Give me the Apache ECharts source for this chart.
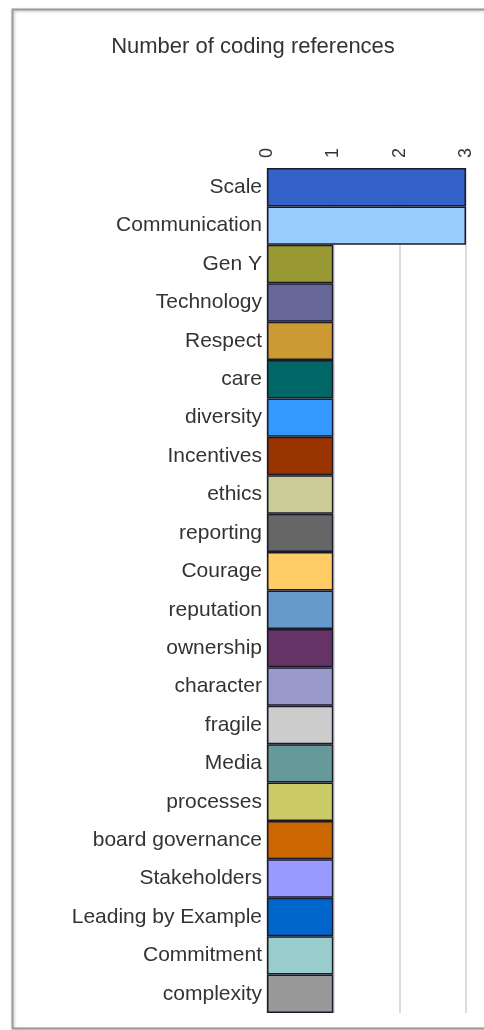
<!DOCTYPE html>
<html>
<head>
<meta charset="utf-8">
<script src="https://cdn.jsdelivr.net/npm/echarts@6/dist/echarts.min.js"></script>
<style>
html,body{margin:0;padding:0;background:#fff;}
#chart{width:484px;height:1030px;}
</style>
</head>
<body>
<div id="chart"></div>
<script>
const categories = ["Scale","Communication","Gen Y","Technology","Respect","care","diversity","Incentives","ethics","reporting","Courage","reputation","ownership","character","fragile","Media","processes","board governance","Stakeholders","Leading by Example","Commitment","complexity"];
const values = [3,3,1,1,1,1,1,1,1,1,1,1,1,1,1,1,1,1,1,1,1,1];
const colors = ["#3262C8","#99CCFF","#999933","#666699","#CC9933","#006666","#3399FF","#993300","#CCCC99","#666666","#FFCC66","#6699CC","#663366","#9999CC","#CCCCCC","#669999","#CCCC66","#CC6600","#9999FF","#0066CC","#99CCCC","#999999"];
const tickValues = [0,1,2,3];
const titleText = "Number of coding references";

const chart = echarts.init(document.getElementById('chart'), null, {renderer:'canvas'});
chart.setOption({
  backgroundColor:'#fff',
  animation:false,
  title:{
    text:titleText,
    left:248, top:31, textAlign:'center',
    textStyle:{fontFamily:'Liberation Sans, Arial, sans-serif',fontSize:22,fontWeight:'normal',color:'#333'}
  },
  graphic:[{
    type:'rect', z:100, silent:true,
    shape:{x:12.5,y:9.5,width:520,height:1019},
    style:{fill:'none',stroke:'#9a9a9a',lineWidth:2,shadowBlur:3,shadowColor:'rgba(0,0,0,0.25)',shadowOffsetX:1,shadowOffsetY:1}
  }],
  grid:{left:267,right:18,top:168,bottom:17,containLabel:false},
  xAxis:{
    type:'value', position:'top', min:0, max:3, interval:1,
    axisLine:{show:false}, axisTick:{show:false},
    splitLine:{show:true,lineStyle:{color:'#dcdcdc',width:2}},
    axisLabel:{
      rotate:-90, margin:10, fontSize:18, color:'#333',
      fontFamily:'Liberation Sans, Arial, sans-serif',
      formatter:function(v){return tickValues.indexOf(v)>=0?String(v):'';}
    }
  },
  yAxis:{
    type:'category', data:categories, inverse:true,
    axisLine:{show:false}, axisTick:{show:false},
    axisLabel:{fontSize:21,color:'#333',margin:5,fontFamily:'Liberation Sans, Arial, sans-serif'}
  },
  series:[{
    type:'bar',
    data:values.map(function(v,i){return {value:v,itemStyle:{color:colors[i]}};}),
    barCategoryGap:0,
    itemStyle:{borderColor:'#1a1a2a',borderWidth:1.5}
  }]
});
</script>
</body>
</html>
